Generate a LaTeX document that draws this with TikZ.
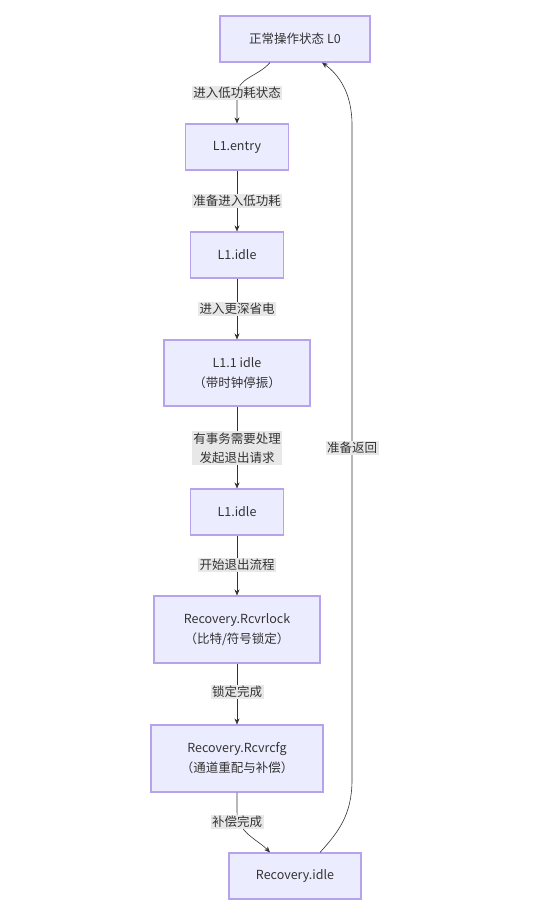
\documentclass[tikz,border=0pt]{standalone}
\usepackage{fontspec}
\setmainfont{Noto Sans CJK SC}
\usetikzlibrary{arrows.meta}
\definecolor{boxfill}{HTML}{ECECFF}
\definecolor{boxline}{HTML}{B7A2EC}
\definecolor{txt}{HTML}{333333}
\definecolor{lblbg}{HTML}{E8E8E8}
\begin{document}
\begin{tikzpicture}[x=1pt,y=-1pt,
  state/.style={draw=boxline,line width=1.1pt,fill=boxfill,text=txt,font=\fontsize{12.5}{20}\selectfont,align=center,inner sep=0pt},
  lbl/.style={fill=lblbg,text=txt,font=\fontsize{12.5}{19}\selectfont,align=center,inner sep=1.5pt},
  edge/.style={draw=txt,line width=0.6pt,-{Stealth[length=6pt,width=5pt]}}]
\useasboundingbox (0,0) rectangle (540,919);
\fill[white] (0,0) rectangle (540,919);
\node[state,minimum width=150pt,minimum height=46pt] (l0) at (295,39) {正常操作状态 L0};
\node[state,minimum width=103pt,minimum height=46pt] (l1e) at (237,147) {L1.entry};
\node[state,minimum width=93pt,minimum height=46pt] (l1i) at (237,255) {L1.idle};
\node[state,minimum width=146pt,minimum height=66pt] (l11) at (237,373) {L1.1 idle\\（带时钟停振）};
\node[state,minimum width=93pt,minimum height=46pt] (l1i2) at (237,512) {L1.idle};
\node[state,minimum width=166pt,minimum height=67pt] (rlock) at (237,629.5) {Recovery.Rcvrlock\\（比特/符号锁定）};
\node[state,minimum width=172pt,minimum height=67pt] (rcfg) at (237,758.5) {Recovery.Rcvrcfg\\（通道重配与补偿）};
\node[state,minimum width=132pt,minimum height=46pt] (ridle) at (295,876) {Recovery.idle};
% edges
\draw[edge] ([xshift=-25pt]l0.south) .. controls +(-12,14) and (237,78) .. (237,95) -- (l1e.north);
\draw[edge] (l1e.south) -- (l1i.north);
\draw[edge] (l1i.south) -- (l11.north);
\draw[edge] (l11.south) -- (l1i2.north);
\draw[edge] (l1i2.south) -- (rlock.north);
\draw[edge] (rlock.south) -- (rcfg.north);
\draw[edge] (rcfg.south) -- (237,812) .. controls (237,832) and (258,840) .. ([xshift=-25pt]ridle.north);
\draw[edge] ([xshift=25pt]ridle.north) .. controls +(18,-20) and (352,815) .. (352,780) -- (352,125) .. controls (352,92) and (338,74) .. ([xshift=27pt]l0.south);
% labels
\node[lbl] (e1) at (237,93) {进入低功耗状态};
\node[lbl] (e2) at (237,201) {准备进入低功耗};
\node[lbl] (e3) at (237,309) {进入更深省电};
\node[lbl] (e4) at (237,448) {有事务需要处理\\发起退出请求};
\node[lbl] (e5) at (237,565) {开始退出流程};
\node[lbl] (e6) at (237,692) {锁定完成};
\node[lbl] (e7) at (237,822) {补偿完成};
\node[lbl] (e8) at (352,448) {准备返回};
\end{tikzpicture}
\end{document}
